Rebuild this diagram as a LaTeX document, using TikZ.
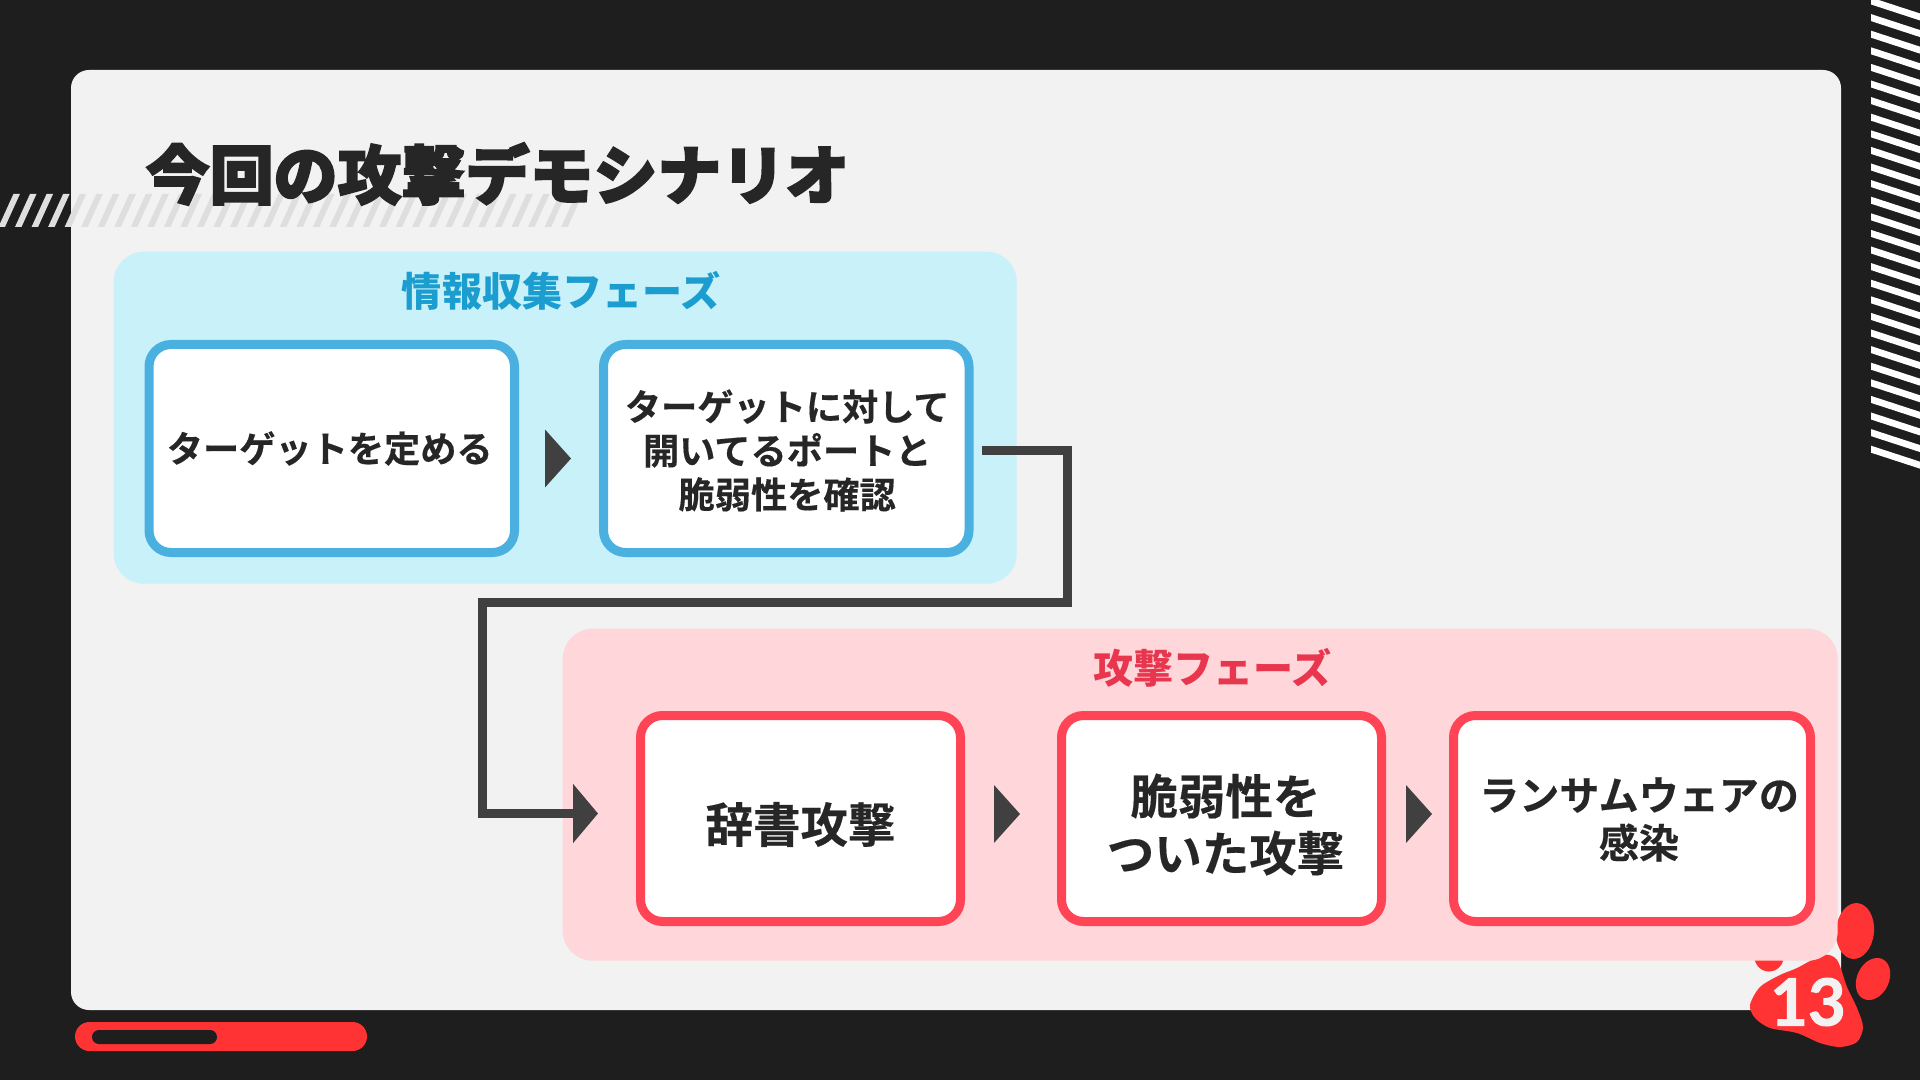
\documentclass[tikz,border=0pt]{standalone}
\usepackage{fontspec}
\setmainfont{Noto Sans CJK JP}[BoldFont={Noto Sans CJK JP Bold}, BoldFeatures={FakeBold=0.4}]
\newfontfamily\titlefont{Noto Sans CJK JP Black}[FakeBold=3]
\newfontfamily\phasefont{Noto Sans CJK JP Black}
\newfontfamily\numfont{Lato Bold}[FakeBold=1.5]
\usetikzlibrary{positioning, arrows.meta, calc, shapes.geometric}
\definecolor{slidedark}{RGB}{30,30,30}
\definecolor{cardgray}{RGB}{242,242,242}
\definecolor{stripegray}{RGB}{222,222,222}
\definecolor{inkdark}{RGB}{38,38,38}
\definecolor{flowdark}{RGB}{64,64,64}
\definecolor{reconpanel}{RGB}{200,241,249}
\definecolor{reconline}{RGB}{74,176,224}
\definecolor{recontext}{RGB}{28,157,208}
\definecolor{attackpanel}{RGB}{255,214,217}
\definecolor{attackline}{RGB}{255,68,85}
\definecolor{attacktext}{RGB}{232,54,79}
\definecolor{pawred}{RGB}{255,51,51}

\begin{document}
\begin{tikzpicture}[
    panel/.style={rectangle, rounded corners=0.3cm, anchor=north west, inner sep=0pt},
    stepbox/.style={rectangle, draw, line width=0.09cm, rounded corners=0.22cm, fill=white, inner sep=0pt},
    reconbox/.style={stepbox, draw=reconline, minimum width=3.655cm, minimum height=2.08cm},
    attackbox/.style={stepbox, draw=attackline, minimum width=3.2cm, minimum height=2.06cm},
    steptext/.style={align=center, text=inkdark, inner sep=0pt},
    smalltext/.style={steptext, font=\fontsize{10.3}{12.5}\selectfont\bfseries},
    largetext/.style={steptext, font=\fontsize{13.5}{16.2}\selectfont\bfseries},
    phasetitle/.style={inner sep=0pt, font=\fontsize{11.4}{13}\selectfont\phasefont},
    flowtri/.style={isosceles triangle, isosceles triangle apex angle=50, isosceles triangle stretches, fill=flowdark, inner sep=0pt, outer sep=0pt, minimum width=0.58cm, minimum height=0.26cm},
    connector/.style={-{Triangle[length=0.25cm, width=0.58cm]}, line width=0.09cm, flowdark}
]
\useasboundingbox (0,0) rectangle (19.2,-10.8);

% === BACKGROUND ===
\fill[slidedark] (0,0) rectangle (19.2,-10.8);
\fill[cardgray, rounded corners=0.18cm] (0.71,-0.7) rectangle (18.41,-10.1);

% Stripes
\foreach \i in {0,...,34} {
    \fill[stripegray] ({-0.0155+0.1655*\i},-2.27) -- ++(0.065,0) -- ++(0.15,0.33) -- ++(-0.065,0) -- cycle;
}
\foreach \i in {0,...,27} {
    \fill[white] (18.71,{-4.457+0.166*\i}) -- ++(0.5,-0.163) -- ++(0,-0.07) -- ++(-0.5,0.163) -- cycle;
}

% Bottom bar
\fill[pawred, rounded corners=0.145cm] (0.75,-10.22) rectangle (3.67,-10.51);
\fill[slidedark, rounded corners=0.07cm] (0.92,-10.3) rectangle (2.17,-10.44);

% === PAW ===
\fill[pawred] plot[smooth cycle] coordinates {(17.5,-10.05) (17.6,-9.87) (17.8,-9.75) (17.97,-9.68) (18.23,-9.55) (18.37,-9.6) (18.47,-9.87) (18.57,-10.08) (18.63,-10.27) (18.57,-10.42) (18.4,-10.47) (18.2,-10.43) (17.97,-10.33) (17.7,-10.28) (17.55,-10.18)};
\fill[pawred, rotate around={-5:(18.55,-9.31)}] (18.55,-9.31) ellipse (0.19 and 0.28);
\fill[pawred, rotate around={-25:(18.73,-9.79)}] (18.73,-9.79) ellipse (0.16 and 0.22);
\fill[pawred] (17.69,-9.57) circle (0.145);
\node[text=cardgray, inner sep=0pt, font=\fontsize{18.5}{20}\selectfont\numfont] (pagenum) at (18.08,-10.02) {13};

% === TITLE ===
\node[anchor=west, inner sep=0pt, text=inkdark, font=\fontsize{18.2}{20}\selectfont\titlefont] (slidetitle) at (1.45,-1.74) {今回の攻撃デモシナリオ};

% === RECON PHASE ===
\node[panel, fill=reconpanel, minimum width=9.03cm, minimum height=3.32cm] (recon) at (1.13,-2.51) {};
\node[phasetitle, text=recontext, below=0.195cm of recon.north, xshift=-0.04cm] (recon_title) {情報収集フェーズ};
\node[reconbox, below right=0.89cm and 0.315cm of recon.north west] (target) {};
\node[smalltext, xshift=-0.02cm] (target_text) at (target) {ターゲットを定める};
\node[reconbox, right=0.8cm of target] (portscan) {};
\node[smalltext, xshift=0.01cm, yshift=-0.02cm] (portscan_text) at (portscan) {ターゲットに対して\\開いてるポートと\\脆弱性を確認};
\node[flowtri, right=0.26cm of target, yshift=-0.1cm] (recon_tri) {};

% === ATTACK PHASE ===
\node[panel, fill=attackpanel, minimum width=12.75cm, minimum height=3.32cm] (attack) at (5.62,-6.28) {};
\node[phasetitle, text=attacktext, below=0.2cm of attack.north, xshift=0.12cm] (attack_title) {攻撃フェーズ};
\node[attackbox, below right=0.83cm and 0.74cm of attack.north west] (dictionary) {};
\node[largetext, yshift=-0.06cm] (dictionary_text) at (dictionary) {辞書攻撃};
\node[attackbox, right=0.92cm of dictionary] (exploit) {};
\node[largetext, xshift=0.04cm, yshift=-0.06cm] (exploit_text) at (exploit) {脆弱性を\\ついた攻撃};
\node[attackbox, right=0.63cm of exploit, minimum width=3.57cm] (ransom) {};
\node[steptext, font=\fontsize{11.4}{13.6}\selectfont\bfseries, xshift=0.07cm, yshift=-0.01cm] (ransom_text) at (ransom) {ランサムウェアの\\感染};
\node[flowtri, right=0.29cm of dictionary, yshift=0.045cm] (attack_tri1) {};
\node[flowtri, right=0.2cm of exploit, yshift=0.045cm] (attack_tri2) {};

% Connector between the phases
\coordinate[right=0.08cm of portscan.east, yshift=-0.025cm] (flow_start);
\coordinate[left=0.38cm of dictionary.west, yshift=0.05cm] (flow_end);
\draw[connector] (flow_start) -- ++(0.86,0) |- (4.825,-6.025) |- (flow_end);

\end{tikzpicture}
\end{document}
